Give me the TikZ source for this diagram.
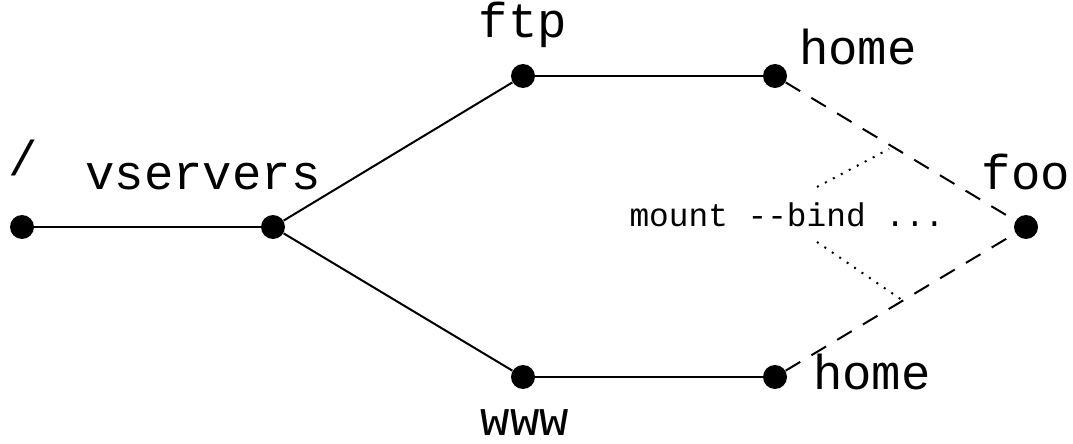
\documentclass[tikz,border=0pt]{standalone}
\usepackage{fontspec}
\setmainfont[Ligatures=NoCommon]{Liberation Mono}
\begin{document}
\begin{tikzpicture}[x=0.5pt,y=-0.5pt,
  vertex/.style={circle,fill=black,inner sep=0pt,minimum size=12pt},
  edge/.style={line width=1pt},
  bindedge/.style={line width=1pt,dash pattern=on 8.5pt off 6.5pt},
  hint/.style={line width=1pt,dash pattern=on 1pt off 3.5pt},
  lbl/.style={font=\fontsize{24.5}{28}\selectfont,anchor=base,inner sep=0pt},
  small/.style={font=\fontsize{16.4}{19}\selectfont,anchor=base,inner sep=0pt}]
\useasboundingbox (0,0) rectangle (1073,444);
% tree vertices
\node[vertex] (root) at (22,227) {};
\node[vertex] (vs) at (273,227) {};
\node[vertex] (ftp) at (523,76) {};
\node[vertex] (www) at (523,377) {};
\node[vertex] (fhome) at (775,76) {};
\node[vertex] (whome) at (775,377) {};
\node[vertex] (foo) at (1026,227) {};
% labels
\node[lbl] (lroot) at (23,176) {/};
\node[lbl] (lvs) at (203,190) {vservers};
\node[lbl] (lftp) at (523,38) {ftp};
\node[lbl] (lfhome) at (858,65) {home};
\node[lbl] (lwhome) at (872,390) {home};
\node[lbl] (lwww) at (525,436) {www};
\node[lbl] (lfoo) at (1026,190) {foo};
\node[small] (lmount) at (787,227) {mount -{}-bind ...};
% directory edges
\draw[edge] (root) -- (vs);
\draw[edge] (vs) -- (ftp);
\draw[edge] (vs) -- (www);
\draw[edge] (ftp) -- (fhome);
\draw[edge] (www) -- (whome);
% bind mounts
\draw[bindedge] (fhome) -- (foo);
\draw[bindedge] (whome) -- (foo);
% pointers from the command to the mounts
\coordinate (ua) at (817,187);
\coordinate (ub) at (889,149);
\coordinate (la) at (817,242);
\coordinate (lb) at (902,300);
\draw[hint] (ua) -- (ub);
\draw[hint] (la) -- (lb);
\end{tikzpicture}
\end{document}
